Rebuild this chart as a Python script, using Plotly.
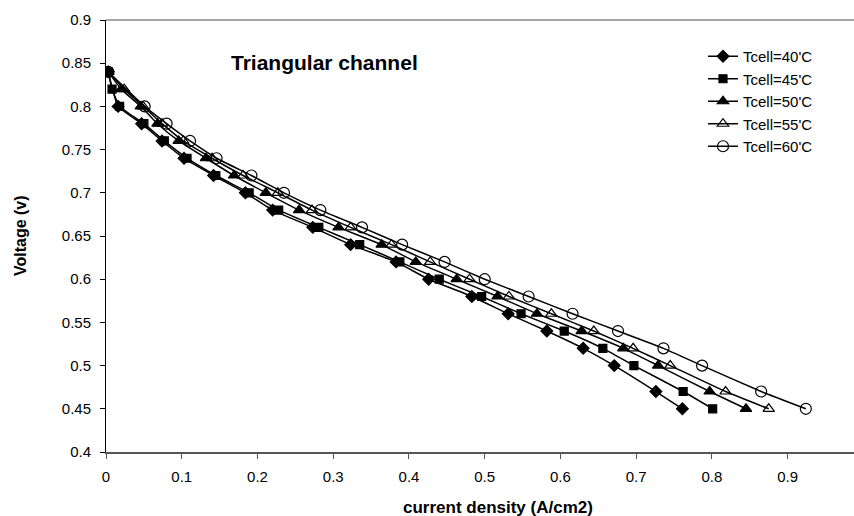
import plotly.graph_objects as go

voltage_40 = [0.84, 0.80, 0.78, 0.76, 0.74, 0.72, 0.70, 0.68, 0.66, 0.64, 0.62, 0.60, 0.58, 0.56, 0.54, 0.52, 0.50, 0.47, 0.45]
current_40 = [0.003, 0.016, 0.047, 0.074, 0.103, 0.142, 0.184, 0.220, 0.273, 0.323, 0.383, 0.426, 0.483, 0.531, 0.582, 0.630, 0.671, 0.726, 0.761]

voltage_45 = [0.84, 0.82, 0.80, 0.78, 0.76, 0.74, 0.72, 0.70, 0.68, 0.66, 0.64, 0.62, 0.60, 0.58, 0.56, 0.54, 0.52, 0.50, 0.47, 0.45]
current_45 = [0.003, 0.008, 0.018, 0.050, 0.077, 0.107, 0.145, 0.189, 0.228, 0.281, 0.335, 0.388, 0.440, 0.496, 0.548, 0.605, 0.656, 0.697, 0.762, 0.801]

voltage_50 = [0.84, 0.82, 0.80, 0.78, 0.76, 0.74, 0.72, 0.70, 0.68, 0.66, 0.64, 0.62, 0.60, 0.58, 0.56, 0.54, 0.52, 0.50, 0.47, 0.45]
current_50 = [0.003, 0.020, 0.046, 0.068, 0.096, 0.132, 0.169, 0.211, 0.255, 0.307, 0.364, 0.409, 0.463, 0.517, 0.569, 0.628, 0.683, 0.729, 0.797, 0.845]

voltage_55 = [0.84, 0.82, 0.80, 0.78, 0.76, 0.74, 0.72, 0.70, 0.68, 0.66, 0.64, 0.62, 0.60, 0.58, 0.56, 0.54, 0.52, 0.50, 0.47, 0.45]
current_55 = [0.003, 0.024, 0.049, 0.074, 0.102, 0.140, 0.181, 0.227, 0.272, 0.323, 0.377, 0.428, 0.480, 0.532, 0.588, 0.644, 0.696, 0.745, 0.818, 0.875]

voltage_60 = [0.84, 0.80, 0.78, 0.76, 0.74, 0.72, 0.70, 0.68, 0.66, 0.64, 0.62, 0.60, 0.58, 0.56, 0.54, 0.52, 0.50, 0.47, 0.45]
current_60 = [0.003, 0.051, 0.080, 0.111, 0.146, 0.192, 0.235, 0.283, 0.338, 0.391, 0.447, 0.500, 0.558, 0.616, 0.676, 0.736, 0.787, 0.865, 0.924]

series_names = ["Tcell=40'C", "Tcell=45'C", "Tcell=50'C", "Tcell=55'C", "Tcell=60'C"]
x_ticks = [0, 0.1, 0.2, 0.3, 0.4, 0.5, 0.6, 0.7, 0.8, 0.9]
y_ticks = [0.4, 0.45, 0.5, 0.55, 0.6, 0.65, 0.7, 0.75, 0.8, 0.85, 0.9]

data = [
    (current_40, voltage_40, "diamond", 9),
    (current_45, voltage_45, "square", 8),
    (current_50, voltage_50, "triangle-up", 10),
    (current_55, voltage_55, "triangle-up-open", 10),
    (current_60, voltage_60, "circle-open", 11),
]

fig = go.Figure()
for (xs, ys, sym, sz), name in zip(data, series_names):
    fig.add_trace(go.Scatter(
        x=xs, y=ys, name=name, mode="lines+markers",
        line=dict(color="black", width=1.5, shape="spline", smoothing=0.4),
        marker=dict(symbol=sym, size=sz, color="black", line=dict(color="black", width=1.2)),
    ))

W, H = 854, 516
L, R, T, B = 106, 0, 20, 64
PW, PH = W - L - R, H - T - B


def px(x):
    return (x - L) / PW


def py(y):
    return 1 - (y - T) / PH


fig.update_layout(
    width=W, height=H,
    margin=dict(l=L, r=R, t=T, b=B),
    paper_bgcolor="white", plot_bgcolor="white",
    font=dict(family="Liberation Sans, Arial, sans-serif", size=15, color="black"),
    showlegend=True,
    legend=dict(
        x=px(703), y=py(40),
        xanchor="left", yanchor="top",
        bgcolor="rgba(0,0,0,0)", font=dict(size=15),
        itemwidth=30, tracegroupgap=0,
    ),
    xaxis=dict(
        range=[0, PW / 757.4], tickvals=x_ticks, ticktext=[str(v) for v in x_ticks],
        showgrid=False, zeroline=False, showline=True, linecolor="#555555", linewidth=1.5,
        ticks="outside", ticklen=5, tickcolor="#555555", ticklabelstandoff=5,
        tickfont=dict(size=15),
    ),
    yaxis=dict(
        range=[0.4, 0.9], tickvals=y_ticks, ticktext=[f"{v:g}" for v in y_ticks],
        showgrid=False, zeroline=False, showline=True, linecolor="black", linewidth=1,
        ticks="outside", ticklen=5, tickcolor="black", ticklabelstandoff=6,
        tickfont=dict(size=15),
    ),
    shapes=[dict(type="line", xref="paper", yref="paper", x0=0, x1=1, y0=1, y1=1,
                 line=dict(color="#888888", width=1.5))],
    annotations=[
        dict(text="<b>Triangular channel</b>", xref="paper", yref="paper",
             x=px(229), y=py(63), xanchor="left", yanchor="middle", showarrow=False,
             font=dict(size=21, color="black")),
        dict(text="<b>current density (A/cm2)</b>", xref="paper", yref="paper",
             x=px(498), y=py(508), xanchor="center", yanchor="middle", showarrow=False,
             font=dict(size=17, color="black")),
        dict(text="<b>Voltage (v)</b>", xref="paper", yref="paper", textangle=-90,
             x=px(20), y=py(236), xanchor="center", yanchor="middle", showarrow=False,
             font=dict(size=16, color="black")),
    ],
)

fig.write_html("out.html")
